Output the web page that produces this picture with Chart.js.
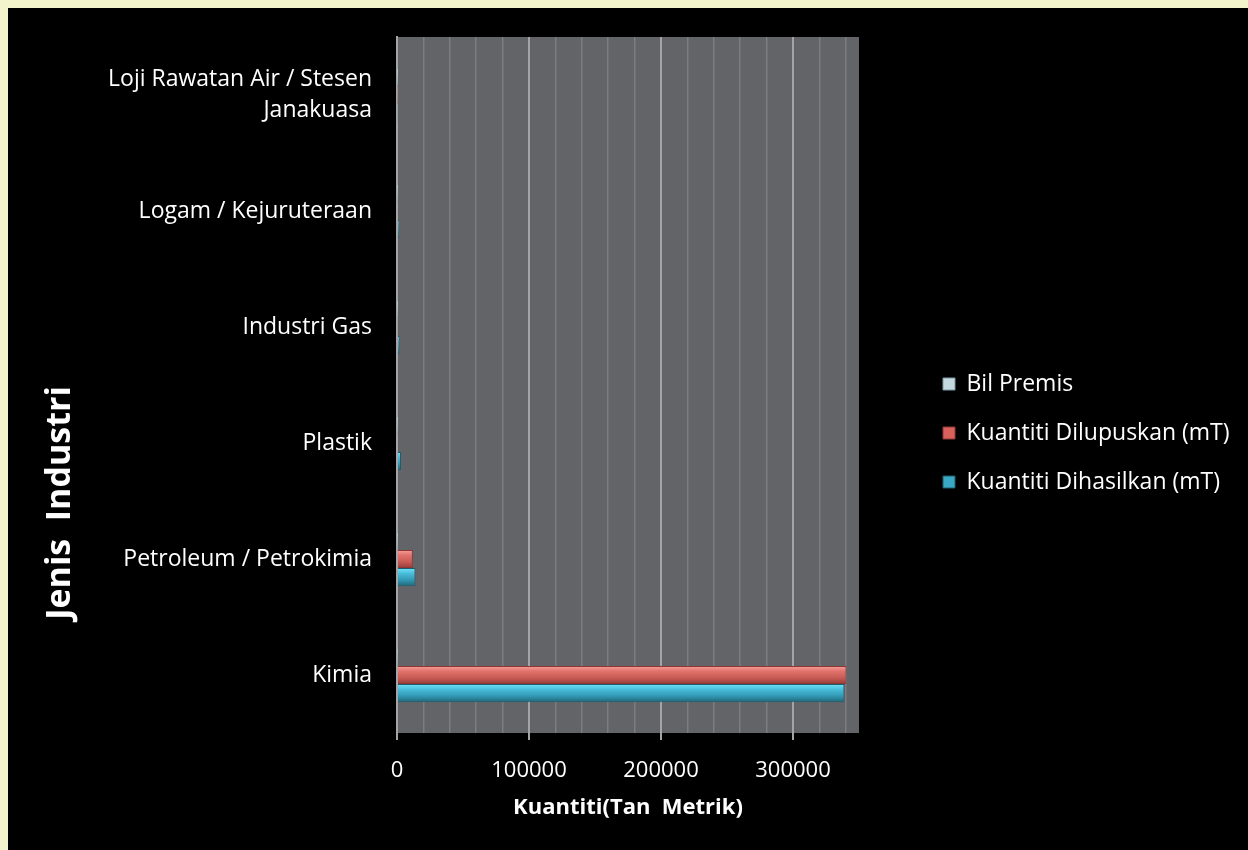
<!DOCTYPE html>
<html>
<head>
<meta charset="utf-8">
<script src="https://cdn.jsdelivr.net/npm/chart.js@4.4.0/dist/chart.umd.min.js"></script>
<style>
  html, body { margin: 0; padding: 0; background: #f4f4cc; }
  #wrap { width: 1248px; height: 850px; }
</style>
</head>
<body>
<div id="wrap"><canvas id="c" width="1248" height="850"></canvas></div>
<script>
// ---- data ----
const categories = [
  ['Loji Rawatan Air / Stesen', 'Janakuasa'],
  'Logam / Kejuruteraan',
  'Industri Gas',
  'Plastik',
  'Petroleum / Petrokimia',
  'Kimia'
];
const seriesNames = ['Bil Premis', 'Kuantiti Dilupuskan (mT)', 'Kuantiti Dihasilkan (mT)'];
const bilPremis  = [10, 50, 20, 40, 60, 150];
const dilupuskan = [300, 700, 500, 900, 12000, 340500];
const dihasilkan = [500, 1500, 1800, 3000, 14000, 339000];
const xTickValues = [0, 100000, 200000, 300000];
const xTitle = 'Kuantiti(Tan  Metrik)';
const yTitle = 'Jenis  Industri';

// ---- styling ----
const FONT = '"Open Sans", "DejaVu Sans", sans-serif';
const LEG_FS = 23, LEG_PAD = 26, LEG_BOX = 12, LEG_BOX_X = 943;
const PLOT_LEFT = 397, PLOT_RIGHT = 859, PLOT_TOP = 37, PLOT_BOTTOM = 733;
const PAD_LEFT = 10, PAD_BOTTOM = 21;
const LEG_BOX_LAYOUT = 150;
const CAT_PCT = 0.47;
const MINOR_STEP = 20000, GRID_LAST = 340000;

const gradStops = [
  [[0, '#e6f1f5'], [0.4, '#c4d8e0'], [1, '#8fa9b4']],
  [[0, '#f6a19b'], [0.3, '#e0716b'], [0.65, '#c95b56'], [1, '#963c38']],
  [[0, '#72e3fb'], [0.3, '#48bcd9'], [0.65, '#3399b4'], [1, '#1f6677']]
];
const legendFill = ['#c4d8e0', '#d9605b', '#3aa9c6'];
const borderCols = ['#7f98a2', '#8e3835', '#1c5c6b'];

function barFill(c) {
  const di = c.datasetIndex;
  const chart = c.chart;
  const ys = chart.scales && chart.scales.y;
  if (!ys || c.dataIndex === undefined || !chart.chartArea) return legendFill[di];
  const catSize = (ys.bottom - ys.top) / categories.length;
  const band = catSize * CAT_PCT;
  const barH = band / 3;
  const center = ys.getPixelForValue(c.dataIndex);
  const top = center - band / 2 + di * barH;
  const g = chart.ctx.createLinearGradient(0, top, 0, top + barH);
  gradStops[di].forEach(([o, col]) => g.addColorStop(o, col));
  return g;
}

const framePlugin = {
  id: 'frame',
  afterLayout(chart) {
    const lg = chart.legend;
    if (!lg) return;
    lg.left = LEG_BOX_X - LEG_PAD;
    lg.width = 1248 - lg.left;
    lg.right = 1248;
    lg.top = PLOT_TOP;
    lg.bottom = 850 - PAD_BOTTOM;
    lg.height = lg.bottom - lg.top;
  },
  beforeDraw(chart) {
    const { ctx, chartArea: a } = chart;
    ctx.save();
    ctx.fillStyle = '#f4f4cc';
    ctx.fillRect(0, 0, chart.width, chart.height);
    ctx.fillStyle = '#000000';
    ctx.fillRect(8, 8, chart.width - 8, chart.height - 8);
    ctx.fillStyle = '#636468';
    ctx.fillRect(a.left, a.top, a.right - a.left, a.bottom - a.top);
    ctx.restore();
  },
  afterDraw(chart) {
    const { ctx } = chart;
    ctx.save();
    ctx.translate(60, 503);
    ctx.rotate(-Math.PI / 2);
    ctx.fillStyle = '#ffffff';
    ctx.font = 'bold 34px ' + FONT;
    ctx.textAlign = 'center';
    ctx.textBaseline = 'middle';
    ctx.fillText(yTitle, 0, 0);
    ctx.restore();
  }
};

new Chart(document.getElementById('c'), {
  type: 'bar',
  data: {
    labels: categories,
    datasets: [
      { label: seriesNames[0], data: bilPremis,  backgroundColor: barFill, borderColor: borderCols[0], borderWidth: 1 },
      { label: seriesNames[1], data: dilupuskan, backgroundColor: barFill, borderColor: borderCols[1], borderWidth: 1 },
      { label: seriesNames[2], data: dihasilkan, backgroundColor: barFill, borderColor: borderCols[2], borderWidth: 1 }
    ]
  },
  options: {
    indexAxis: 'y',
    responsive: false,
    animation: false,
    devicePixelRatio: 1,
    layout: { padding: { left: PAD_LEFT, top: PLOT_TOP, right: 1248 - PLOT_RIGHT - LEG_BOX_LAYOUT, bottom: PAD_BOTTOM } },
    datasets: { bar: { categoryPercentage: CAT_PCT, barPercentage: 1.0 } },
    plugins: {
      legend: {
        position: 'right',
        align: 'center',
        maxWidth: LEG_BOX_LAYOUT,
        labels: {
          color: '#ffffff',
          font: { family: FONT, size: LEG_FS },
          boxWidth: LEG_BOX, boxHeight: LEG_BOX,
          padding: LEG_PAD,
          generateLabels(chart) {
            const items = Chart.defaults.plugins.legend.labels.generateLabels(chart);
            items.forEach((it, i) => { it.fillStyle = legendFill[i]; it.strokeStyle = borderCols[i]; it.lineWidth = 1; });
            return items;
          }
        }
      },
      tooltip: { enabled: false }
    },
    scales: {
      x: {
        type: 'linear',
        min: 0, max: 350000,
        afterBuildTicks: s => {
          const t = [];
          for (let v = 0; v <= GRID_LAST; v += MINOR_STEP) t.push({ value: v });
          s.ticks = t;
        },
        ticks: {
          autoSkip: false,
          maxRotation: 0,
          color: '#ffffff',
          font: { family: FONT, size: 22 },
          padding: 18,
          callback: v => (xTickValues.includes(v) ? String(v) : '')
        },
        grid: {
          drawTicks: true,
          tickLength: 7,
          color: c => (c.tick && c.tick.value % 100000 === 0 ? '#a4a4a6' : '#7c7d81'),
          lineWidth: c => (c.tick && c.tick.value % 100000 === 0 ? 2 : 1.5),
          tickColor: c => (c.tick && xTickValues.includes(c.tick.value) ? '#a4a4a6' : 'rgba(0,0,0,0)')
        },
        border: { display: false },
        title: {
          display: true,
          text: xTitle,
          color: '#ffffff',
          font: { family: FONT, size: 22, weight: 'bold' },
          padding: { top: 4, bottom: 8 }
        },
        afterFit: s => { s.height = 850 - PAD_BOTTOM - PLOT_BOTTOM; }
      },
      y: {
        type: 'category',
        position: 'left',
        ticks: {
          color: '#ffffff',
          font: { family: FONT, size: 23, lineHeight: 1.35 },
          padding: 25
        },
        grid: { display: false, drawTicks: false },
        border: { display: true, color: '#a4a4a6', width: 2 },
        afterFit: s => { s.width = PLOT_LEFT - PAD_LEFT; s.paddingTop = 0; s.paddingBottom = 0; }
      }
    }
  },
  plugins: [framePlugin]
});
</script>
</body>
</html>
